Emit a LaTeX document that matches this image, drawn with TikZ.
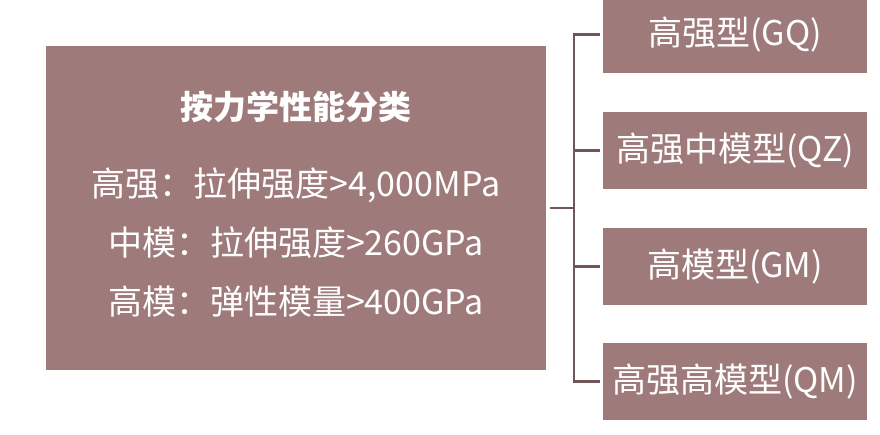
\documentclass[tikz,border=0pt]{standalone}
\usepackage{fontspec}
\newfontfamily\cjk{Noto Sans CJK SC}
\usetikzlibrary{calc}
\definecolor{boxrose}{RGB}{158,123,122}
\definecolor{linerose}{RGB}{112,86,89}
\tikzset{
  rosebox/.style={fill=boxrose, draw=none, inner sep=0pt},
  whitetext/.style={text=white, font=\cjk\fontsize{34}{38}\selectfont},
  bracket/.style={draw=linerose, line width=2.6pt}
}

\begin{document}
\begin{tikzpicture}[x=1pt, y=-1pt]
		%%%%% START %%%%%
		\useasboundingbox (0, 0) rectangle (880, 435);
		
		% left box
		\node[rosebox, minimum width=500pt, minimum height=324pt] (main) at (296, 208) {};
		\node[whitetext, font=\cjk\bfseries\fontsize{33}{38}\selectfont] (title) at (296, 107) {按力学性能分类};
		\node[whitetext] (gq) at (296, 185) {高强：拉伸强度>4,000MPa};
		\node[whitetext] (qz) at (296, 243) {中模：拉伸强度>260GPa};
		\node[whitetext] (gm) at (296, 302) {高模：弹性模量>400GPa};
		
		% right boxes
		\node[rosebox, minimum width=264pt, minimum height=77pt] (b1) at (735, 34.5) {};
		\node[rosebox, minimum width=264pt, minimum height=77pt] (b2) at (735, 150.5) {};
		\node[rosebox, minimum width=264pt, minimum height=77pt] (b3) at (735, 266.5) {};
		\node[rosebox, minimum width=264pt, minimum height=77pt] (b4) at (735, 381.5) {};
		\node[whitetext] at (b1) {高强型(GQ)};
		\node[whitetext] at (b2) {高强中模型(QZ)};
		\node[whitetext] at (b3) {高模型(GM)};
		\node[whitetext] at (b4) {高强高模型(QM)};
		
		% bracket
		\coordinate (fork) at ($(main.east)+(28, 0)$);
		\draw[bracket] ($(main.east)+(4, 0)$) -- (fork);
		\draw[bracket] ($(b1.west)+(-3, 0)$) -| ($(b4.west)+(-29, 0)$) -- ($(b4.west)+(-3, 0)$);
		\draw[bracket] ($(b2.west)+(-3, 0)$) -- ($(b2.west)+(-29, 0)$);
		\draw[bracket] ($(b3.west)+(-3, 0)$) -- ($(b3.west)+(-29, 0)$);
		%%%%% END %%%%%
\end{tikzpicture}
\end{document}
